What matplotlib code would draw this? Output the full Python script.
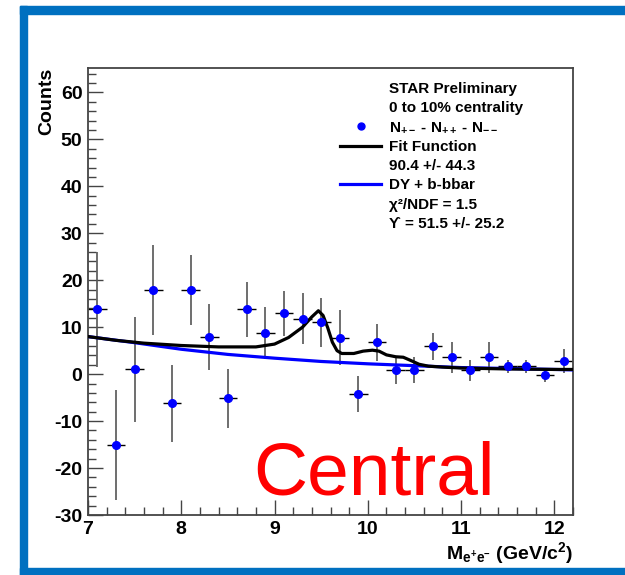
import matplotlib
matplotlib.use("Agg")
import matplotlib.pyplot as plt
from matplotlib.lines import Line2D
from matplotlib.patches import Rectangle
from matplotlib.ticker import MultipleLocator

plt.rcParams['font.family'] = ['Liberation Sans', 'DejaVu Sans']
plt.rcParams['mathtext.fontset'] = 'custom'
plt.rcParams['mathtext.rm'] = 'Liberation Sans'
plt.rcParams['mathtext.bf'] = 'Liberation Sans:bold'
plt.rcParams['mathtext.it'] = 'Liberation Sans:italic'
plt.rcParams['axes.unicode_minus'] = False

# data points (bin centres, counts, errors)
mass = [7.1, 7.3, 7.5, 7.7, 7.9, 8.1, 8.3, 8.5, 8.7, 8.9, 9.1, 9.3, 9.5,
        9.7, 9.9, 10.1, 10.3, 10.5, 10.7, 10.9, 11.1, 11.3, 11.5, 11.7, 11.9, 12.1]
counts = [13.8, -15.0, 1.0, 17.9, -6.2, 17.9, 7.9, -5.1, 13.8, 8.8, 13.0, 11.8, 11.0,
          7.8, -4.2, 6.8, 0.9, 0.9, 5.9, 3.6, 0.8, 3.6, 1.7, 1.7, -0.2, 2.8]
count_err = [12.2, 11.7, 11.2, 9.6, 8.2, 7.5, 7.0, 6.3, 5.9, 5.6, 4.8, 5.4, 5.2,
             5.9, 3.9, 3.9, 3.0, 2.8, 2.9, 3.3, 2.2, 3.3, 1.4, 1.4, 1.4, 2.6]
bin_half = 0.1

# fit function
fit_x = [7.0, 7.3, 7.6, 8.0, 8.4, 8.8, 9.0, 9.15, 9.3, 9.4, 9.47, 9.52, 9.57, 9.62,
         9.67, 9.72, 9.85, 9.95, 10.05, 10.12, 10.2, 10.3, 10.38, 10.45, 10.55,
         10.65, 10.8, 11.0, 11.5, 12.0, 12.2]
fit_y = [8.0, 7.2, 6.6, 6.1, 5.8, 5.8, 6.4, 7.8, 10.0, 12.2, 13.5, 12.5, 9.9, 6.8,
         5.0, 4.4, 4.4, 4.9, 5.1, 4.9, 4.1, 3.7, 3.6, 3.0, 2.1,
         1.7, 1.5, 1.3, 1.1, 1.0, 1.0]

# DY + b-bbar curve
dy_x = [7.0, 7.5, 8.0, 8.5, 9.0, 9.5, 10.0, 10.5, 11.0, 11.5, 12.0, 12.2]
dy_y = [8.0, 6.7, 5.3, 4.2, 3.4, 2.7, 2.2, 1.8, 1.4, 1.2, 1.0, 0.9]

legend_labels = ['STAR Preliminary', '0 to 10% centrality',
                 r'$\mathbf{N_{+-}}$ - $\mathbf{N_{++}}$ - $\mathbf{N_{--}}$',
                 'Fit Function', '90.4 +/- 44.3', 'DY + b-bbar',
                 '\u03c7\u00b2/NDF = 1.5', '\u03d2 = 51.5 +/- 25.2']

W, H = 625, 575
fig = plt.figure(figsize=(W / 100, H / 100), dpi=100)
ax = fig.add_axes([88 / W, 1 - 515 / H, (573 - 88) / W, (515 - 68) / H])

ax.errorbar(mass, counts, yerr=count_err, fmt='none', ecolor='#555555', elinewidth=1.2, capsize=0, zorder=2)
ax.errorbar(mass, counts, xerr=bin_half, fmt='none', ecolor='black', elinewidth=1.0, capsize=0, zorder=2)
ax.plot(dy_x, dy_y, color='#0000ff', lw=2.3, zorder=3)
ax.plot(fit_x, fit_y, color='black', lw=2.3, zorder=4)
ax.plot(mass, counts, 'o', color='#0000ff', ms=5.5, mec='#0000ff', zorder=5)

ax.set_xlim(7, 12.2)
ax.set_ylim(-30, 65.2)
ax.xaxis.set_major_locator(MultipleLocator(1))
ax.xaxis.set_minor_locator(MultipleLocator(0.2))
ax.yaxis.set_major_locator(MultipleLocator(10))
ax.yaxis.set_minor_locator(MultipleLocator(2))
ax.tick_params(which='both', direction='in', top=False, right=False, color='#444444')
ax.tick_params(which='major', length=11, width=1.0, labelsize=14, pad=4)
ax.tick_params(which='minor', length=6, width=1.0)
for lab in ax.get_xticklabels() + ax.get_yticklabels():
    lab.set_fontweight('bold')
for sp in ax.spines.values():
    sp.set_color('#444444')
    sp.set_linewidth(1.3)

ax.set_xlabel(r'$\mathbf{M_{e^{+}e^{-}}}$ (GeV/c$^{\mathbf{2}}$)', loc='right',
              fontsize=14, fontweight='bold', labelpad=2)
fig.text(47 / W, 1 - 68 / H, 'Counts', rotation=90, ha='center', va='top',
         fontsize=14, fontweight='bold')

# legend in ROOT style (no frame)
blank = Line2D([], [], linestyle='none')
handles = [blank, blank,
           Line2D([], [], linestyle='none', marker='o', color='#0000ff', ms=5),
           Line2D([], [], color='black', lw=2.3),
           blank,
           Line2D([], [], color='#0000ff', lw=2.3),
           blank, blank]
leg = ax.legend(handles, legend_labels, loc='upper left', bbox_to_anchor=(252 / 485, 1 - 14 / 447),
                frameon=False, prop={'weight': 'bold', 'size': 11}, handlelength=2.7,
                handletextpad=0.5, labelspacing=0.34, borderpad=0, borderaxespad=0)

ax.text(0.34, 0.045, 'Central', transform=ax.transAxes, color='red', fontsize=54,
        ha='left', va='baseline')

# blue slide frame
blue = '#0070c0'
fig.patches.append(Rectangle((20 / W, 1 - 14 / H), 1, 8 / H, transform=fig.transFigure, color=blue))
fig.patches.append(Rectangle((20 / W, 0), 7 / W, 1 - 6 / H, transform=fig.transFigure, color=blue))
fig.patches.append(Rectangle((20 / W, 0), 1, 7 / H, transform=fig.transFigure, color=blue))

fig.savefig('out.png', dpi=100)
